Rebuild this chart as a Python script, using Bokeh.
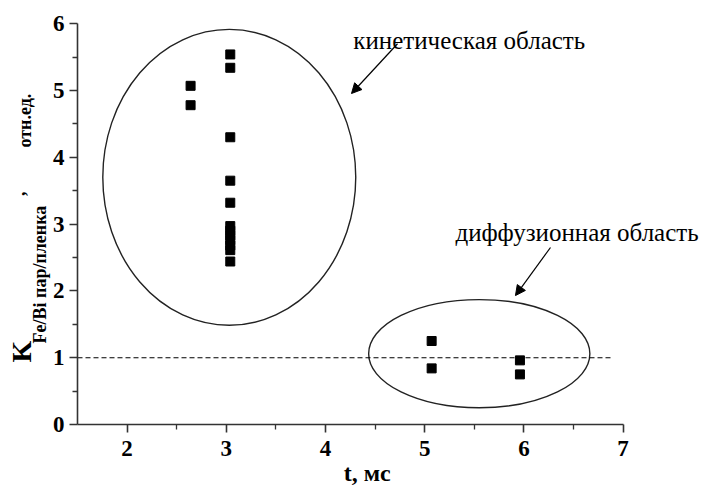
import math
from bokeh.plotting import figure
from bokeh.models import Range1d, FixedTicker, Label, Arrow, NormalHead
from bokeh.embed import file_html
from bokeh.resources import INLINE

# ---- data ----
t_kin = [2.64, 2.64, 3.04, 3.04, 3.04, 3.04, 3.04, 3.04, 3.04, 3.04, 3.04, 3.04, 3.04, 3.04]
k_kin = [5.07, 4.78, 5.54, 5.34, 4.30, 3.65, 3.32, 2.97, 2.90, 2.83, 2.76, 2.68, 2.61, 2.44]
t_dif = [5.07, 5.07, 5.96, 5.96]
k_dif = [1.25, 0.84, 0.96, 0.75]
ref_level = 1.0
ref_x = [1.5, 6.89]
# regions (center x, center y, width, height)
kin_region = (3.03, 3.70, 2.55, 4.43)
dif_region = (5.55, 1.06, 2.23, 1.62)
x_ticks = [2, 3, 4, 5, 6, 7]
x_minor = [2.5, 3.5, 4.5, 5.5, 6.5]
y_ticks = [0, 1, 2, 3, 4, 5, 6]
y_minor = [0.5, 1.5, 2.5, 3.5, 4.5, 5.5]
kin_text = "кинетическая область"
dif_text = "диффузионная область"
x_label = "t, мс"

SERIF = "'Liberation Serif', 'Times New Roman', serif"
AX = "#333333"

# pixel scale: 99.2 px per ms, 66.8 px per unit; axes origin at (77, 424)
p = figure(width=701, height=488, output_backend="svg", toolbar_location=None,
           x_range=Range1d(1.5 - 77 / 99.2, 1.5 + 624 / 99.2),
           y_range=Range1d(-64 / 66.8, 424 / 66.8),
           min_border_left=0, min_border_right=0, min_border_top=0, min_border_bottom=0)
p.outline_line_color = None
p.xgrid.visible = False
p.ygrid.visible = False
p.background_fill_color = "white"

for ax, ticks, minor, bnds, loc in ((p.xaxis[0], x_ticks, x_minor, (1.5, 7), 0),
                                    (p.yaxis[0], y_ticks, y_minor, (0, 6), 1.5)):
    ax.fixed_location = loc
    ax.ticker = FixedTicker(ticks=ticks, minor_ticks=minor)
    ax.bounds = bnds
    ax.axis_line_color = AX
    ax.axis_line_width = 1.6
    ax.major_tick_line_color = AX
    ax.major_tick_line_width = 1.6
    ax.minor_tick_line_color = AX
    ax.minor_tick_line_width = 1.3
    ax.major_tick_out = 8
    ax.major_tick_in = 0
    ax.minor_tick_out = 5
    ax.minor_tick_in = 0
    ax.major_label_text_font = SERIF
    ax.major_label_text_font_style = "bold"
    ax.major_label_text_font_size = "23px"
    ax.major_label_text_color = "black"
p.xaxis.major_label_standoff = 8
p.yaxis.major_label_standoff = 5

# regions
p.ellipse(x=[kin_region[0], dif_region[0]], y=[kin_region[1], dif_region[1]],
          width=[kin_region[2], dif_region[2]], height=[kin_region[3], dif_region[3]],
          fill_color=None, line_color="#222222", line_width=1.4)

# reference line
p.line(x=ref_x, y=[ref_level, ref_level], line_color="black", line_width=1.1, line_dash="5 3")

# points
p.scatter(x=t_kin + t_dif, y=k_kin + k_dif, marker="square", size=9,
          fill_color="black", line_color="black")

# annotation texts and arrows
p.add_layout(Label(x=4.28, y=5.75, text=kin_text, text_font=SERIF, text_font_size="25px",
                   text_color="black", text_align="left", text_baseline="alphabetic"))
p.add_layout(Label(x=5.31, y=2.874, text=dif_text, text_font=SERIF, text_font_size="25px",
                   text_color="black", text_align="left", text_baseline="alphabetic"))
p.add_layout(Arrow(x_start=4.726, y_start=5.70, x_end=4.262, y_end=4.955, line_width=1.2,
                   end=NormalHead(size=10, fill_color="black", line_color="black")))
p.add_layout(Arrow(x_start=6.268, y_start=2.65, x_end=5.915, y_end=1.93, line_width=1.2,
                   end=NormalHead(size=10, fill_color="black", line_color="black")))

# x axis title
p.add_layout(Label(x=4.42, y=-0.72, text=x_label, text_font=SERIF, text_font_style="bold",
                   text_font_size="24px", text_align="center", text_baseline="alphabetic",
                   text_color="black"))

# y axis title pieces (rotated)
def ylab(x, y, txt, size):
    p.add_layout(Label(x=x, y=y, text=txt, angle=math.pi / 2, text_font=SERIF,
                       text_font_style="bold", text_font_size=size, text_align="left",
                       text_baseline="alphabetic", text_color="black"))

ylab(0.94, 0.93, "K", "28px")
ylab(1.117, 1.213, "Fe/Bi пар/пленка", "18px")
ylab(0.905, 3.42, ",", "18px")
ylab(0.966, 4.147, "отн.ед.", "18px")

open("out.html", "w").write(file_html(p, INLINE))
